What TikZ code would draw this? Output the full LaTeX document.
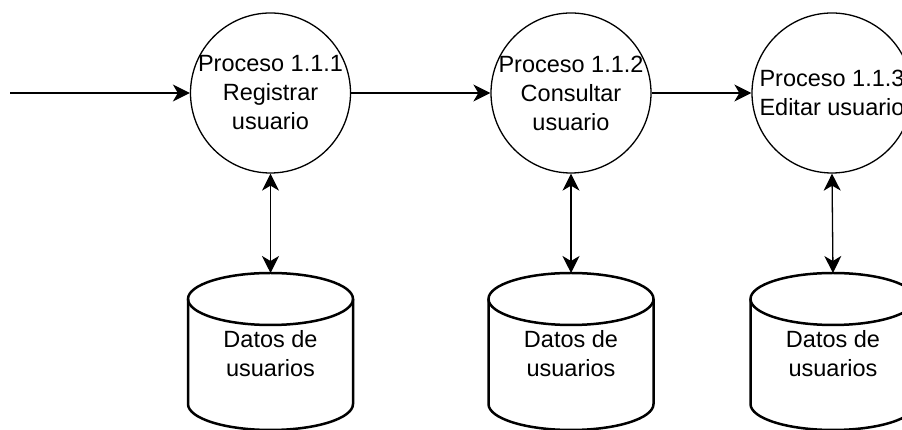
\documentclass[tikz,border=0pt]{standalone}
\usepackage{fontspec}
\setmainfont{Liberation Sans}
\usetikzlibrary{arrows.meta}
\begin{document}
\begin{tikzpicture}[x=1pt,y=1pt,
  proc/.style={circle, draw, line width=1.3pt, minimum size=160pt, inner sep=0pt},
  ptext/.style={align=center, font=\fontsize{23.5}{29}\selectfont, inner sep=0pt},
  tip/.style={},
  flow/.style={line width=1.3pt, -{Stealth[length=17pt,width=17pt,inset=5pt]}},
  bflow/.style={line width=1.3pt, {Stealth[length=17pt,width=17pt,inset=5pt]}-{Stealth[length=17pt,width=17pt,inset=5pt]}},
  store/.style={line width=2.5pt}
]
\useasboundingbox (0,0) rectangle (902,430);
\clip (0,0) rectangle (902,430);
% processes
\node[proc] (p1) at (270.5,337) {};
\node[proc] (p2) at (571,337) {};
\node[proc] (p3) at (832,337) {};
\node[ptext] (p1t) at (270.5,337) {Proceso 1.1.1\\Registrar\\usuario};
\node[ptext] (p2t) at (571,337) {Proceso 1.1.2\\Consultar\\usuario};
\node[ptext] (p3t) at (832,337) {Proceso 1.1.3\\Editar usuario};
% stores
\foreach \n/\x in {1/270.5,2/571,3/833} {
  \draw[store] (\x-82.5,131) -- (\x-82.5,26)
    arc[start angle=180,end angle=360,x radius=82.5pt,y radius=26pt] -- (\x+82.5,131);
  \draw[store] (\x,131) ellipse[x radius=82.5pt,y radius=26pt];
  \coordinate (d\n top) at (\x,157);
  \node[ptext] (d\n) at (\x,76) {Datos de\\usuarios};
}
% connectors
\coordinate (in) at (10,337);
\draw[flow] (in) -- (p1.west);
\draw[flow] (p1.east) -- (p2.west);
\draw[flow] (p2.east) -- (p3.west);
\draw[bflow] (p1.south) -- (d1top);
\draw[bflow] (p2.south) -- (d2top);
\draw[bflow] (p3.south) -- (d3top);
\end{tikzpicture}
\end{document}
